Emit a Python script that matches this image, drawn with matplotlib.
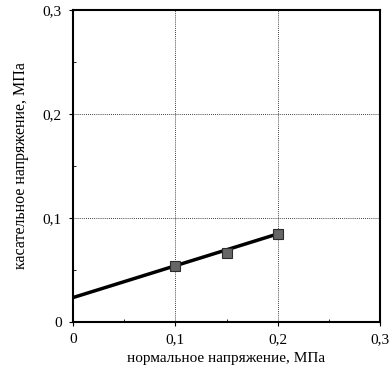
import matplotlib
matplotlib.use("Agg")
import matplotlib.pyplot as plt
from matplotlib.ticker import MultipleLocator, FuncFormatter

# Measured shear strength vs normal stress
sigma = [0.10, 0.15, 0.20]
tau = [0.054, 0.066, 0.085]

# Linear envelope (Coulomb): tau = c + sigma * tan(phi)
line_x = [0.0, 0.20]
cohesion = 0.0235
slope = 0.306
line_y = [cohesion + slope * x for x in line_x]

xticks = [0, 0.1, 0.2, 0.3]
yticks = [0, 0.1, 0.2, 0.3]
xlabel = "нормальное напряжение, МПа"
ylabel = "касательное напряжение, МПа"

plt.rcParams['font.family'] = ['Liberation Serif', 'DejaVu Serif']

fig = plt.figure(figsize=(3.91, 3.70), dpi=100)
ax = fig.add_axes([0.1867, 0.1297, 0.7852, 0.8432])

ax.plot(line_x, line_y, color='black', lw=2.5, zorder=3)
ax.plot(sigma, tau, linestyle='none', marker='s', markersize=6.5,
        markerfacecolor='#666666', markeredgecolor='#2a2a2a',
        markeredgewidth=0.8, zorder=4)

ax.set_xlim(0, 0.3)
ax.set_ylim(0, 0.3)
ax.set_xticks(xticks)
ax.set_yticks(yticks)
ax.xaxis.set_minor_locator(MultipleLocator(0.05))
ax.yaxis.set_minor_locator(MultipleLocator(0.05))

fmt = FuncFormatter(lambda v, p: "0" if abs(v) < 1e-9 else f"{v:.1f}".replace(".", ","))
ax.xaxis.set_major_formatter(fmt)
ax.yaxis.set_major_formatter(fmt)

ax.grid(True, which='major', color='black', linestyle=(0, (1, 1.5)), linewidth=0.6)
for s in ax.spines.values():
    s.set_linewidth(1.5)

ax.tick_params(which='major', direction='out', length=3, width=0.8,
               labelsize=11, pad=5)
ax.tick_params(which='minor', direction='in', length=2.5, width=0.6)

ax.set_xlabel(xlabel, fontsize=11, labelpad=4)
ax.set_ylabel(ylabel, fontsize=11.5, labelpad=10)

fig.savefig("out.png", dpi=100)
